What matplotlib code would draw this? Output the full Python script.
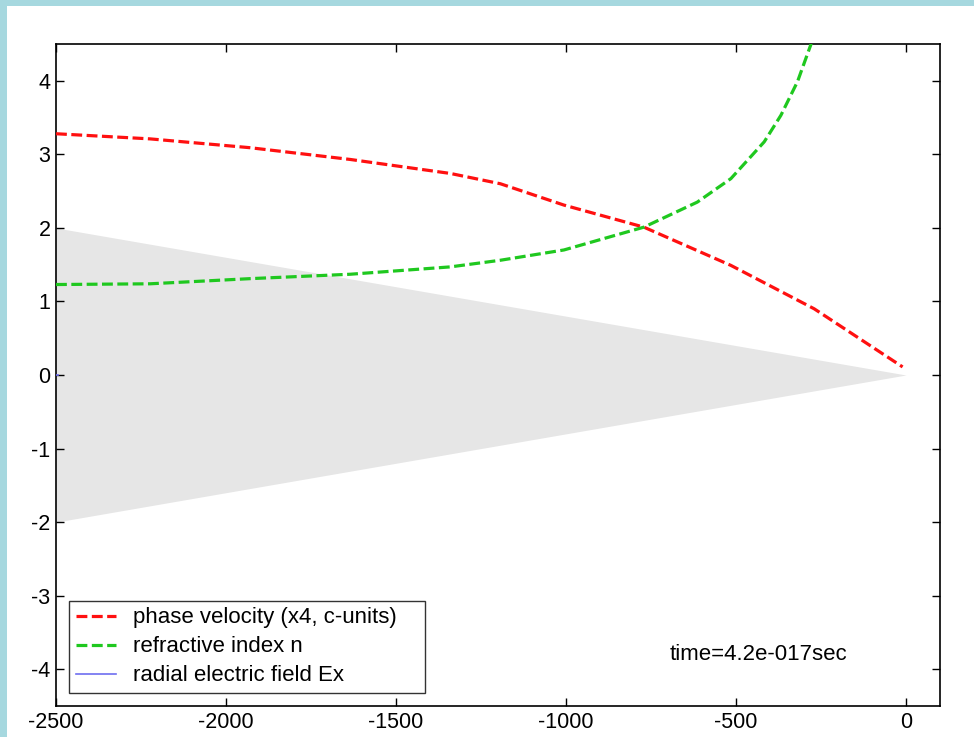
import matplotlib.pyplot as plt
from matplotlib.patches import Rectangle

plt.rcParams['font.family'] = ['Liberation Sans', 'DejaVu Sans']
plt.rcParams['axes.unicode_minus'] = False

# ===== data =====
# phase velocity (x4, c-units)
vel_x = [-2500, -2223, -1929, -1634, -1340, -1193, -1006, -771, -515, -270, -10]
vel_y = [3.28, 3.21, 3.09, 2.93, 2.74, 2.60, 2.31, 2.01, 1.49, 0.90, 0.11]

# refractive index n
n_x = [-2500, -2223, -1929, -1634, -1340, -1193, -1006, -771, -614, -515, -417, -368, -319, -280, -270]
n_y = [1.23, 1.24, 1.31, 1.37, 1.47, 1.56, 1.70, 2.01, 2.35, 2.67, 3.17, 3.53, 3.99, 4.49, 4.62]

# radial electric field Ex (only a speck at the left edge)
ex_x = [-2500, -2495]
ex_y = [0, 0]

# grey cone: upper / lower edge
cone_x = [-2500, 0]
cone_top = [2, 0]
cone_bot = [-2, 0]

time_label = 'time=4.2e-017sec'
legend_labels = ['phase velocity (x4, c-units)', 'refractive index n', 'radial electric field Ex']
# =======================================

fig = plt.figure(figsize=(9.74, 7.37), dpi=100, facecolor='#a6d8df')
# white slide area (cyan strip on top and left)
fig.patches.append(Rectangle((7 / 974, 0), 1, 1 - 6 / 737, transform=fig.transFigure,
                             facecolor='white', edgecolor='none', zorder=-10))

ax = fig.add_axes([56 / 974, 1 - 706 / 737, 884 / 974, 662 / 737])

ax.fill_between(cone_x, cone_bot, cone_top, color='#e6e6e6', linewidth=0, zorder=1)

l1, = ax.plot(vel_x, vel_y, color='#ff1010', lw=2.3, dashes=(3.4, 1.4), zorder=3)
l2, = ax.plot(n_x, n_y, color='#1fc81f', lw=2.3, dashes=(3.4, 1.4), zorder=3)
l3, = ax.plot(ex_x, ex_y, color='#6e6ef0', lw=1.2, zorder=3)

ax.set_xlim(-2500, 100)
ax.set_ylim(-4.5, 4.5)
ax.set_xticks([-2500, -2000, -1500, -1000, -500, 0])
ax.set_yticks([-4, -3, -2, -1, 0, 1, 2, 3, 4])
ax.tick_params(direction='in', top=True, right=True, length=6, width=1,
               labelsize=15.5, pad=4)
for s in ax.spines.values():
    s.set_linewidth(1.2)

ax.text(-695, -3.8, time_label, fontsize=16, va='center', ha='left')

leg = ax.legend([l1, l2, l3], legend_labels, loc='lower left', mode='expand',
                bbox_to_anchor=(13 / 884, 13 / 662, 356 / 884, 91 / 662), fontsize=16,
                frameon=True, fancybox=False, edgecolor='black',
                handlelength=1.8, handletextpad=0.8, borderpad=0.3,
                labelspacing=0.36, borderaxespad=0)
leg.get_frame().set_linewidth(1.0)

fig.savefig('out.png', dpi=100, facecolor=fig.get_facecolor())
